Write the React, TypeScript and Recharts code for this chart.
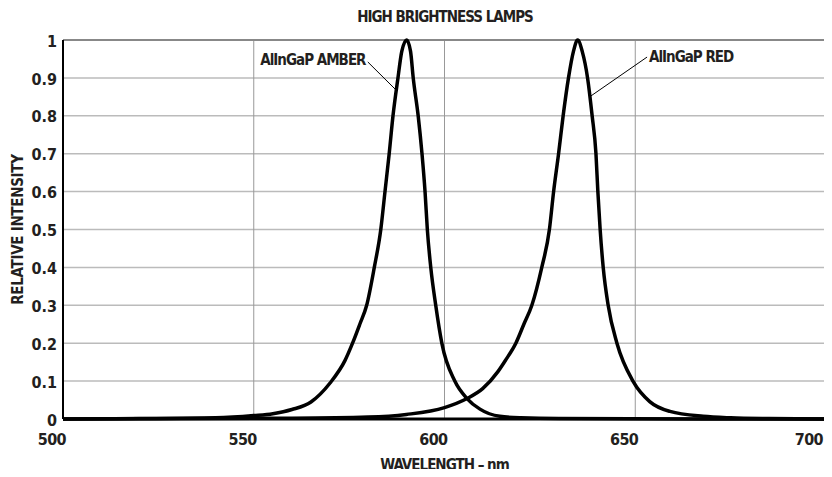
import React from "react"
import {
  LineChart,
  Line,
  XAxis,
  YAxis,
  CartesianGrid,
  ReferenceLine,
  ReferenceDot,
} from "recharts"

// AlInGaP amber spectrum (wavelength nm, relative intensity)
const amberNm = [
  500, 520, 540, 550, 555, 560, 565, 570, 573.9, 575.9, 577.8, 579.6, 581.6,
  583.3, 584.4, 585.5, 586.5, 587.8, 588.8, 590.1, 591.1, 591.8, 593.1, 594.1,
  594.9, 595.5, 596.4, 597.7, 599.3, 602.7, 605.9, 609.3, 614.5, 620, 630, 700,
]
const amberRel = [
  0, 0.001, 0.003, 0.009, 0.014, 0.025, 0.045, 0.095, 0.154, 0.2, 0.25, 0.3,
  0.4, 0.5, 0.6, 0.7, 0.8, 0.9, 0.97, 1, 0.97, 0.9, 0.8, 0.7, 0.6, 0.5, 0.4,
  0.3, 0.2, 0.1, 0.054, 0.026, 0.007, 0.003, 0.001, 0,
]

// AlInGaP red spectrum
const redNm = [
  500, 560, 580, 590, 600, 605.9, 610, 614, 616, 618.7, 620.8, 622.9, 625.5,
  627.5, 628.6, 629.9, 631.1, 632.5, 633.8, 634.9, 636.1, 637.5, 638.7, 639.7,
  640.2, 640.8, 641.6, 642.9, 645.2, 649.4, 653.8, 659.1, 667.8, 675, 685, 700,
]
const redRel = [
  0, 0.002, 0.005, 0.012, 0.03, 0.054, 0.08, 0.125, 0.155, 0.2, 0.25, 0.3, 0.4,
  0.5, 0.6, 0.7, 0.8, 0.9, 0.97, 1, 0.97, 0.9, 0.8, 0.7, 0.6, 0.5, 0.4, 0.3,
  0.2, 0.1, 0.046, 0.02, 0.007, 0.003, 0.001, 0,
]

const xTicks = [500, 550, 600, 650, 700]
const yTicks = [0, 0.1, 0.2, 0.3, 0.4, 0.5, 0.6, 0.7, 0.8, 0.9, 1]

const amberData = amberNm.map((nm, i) => ({ nm, rel: amberRel[i] }))
const redData = redNm.map((nm, i) => ({ nm, rel: redRel[i] }))

const FONT = "'Liberation Sans Narrow', 'DejaVu Sans Condensed', sans-serif"
const INK = "#231f20"
const tickStyle = { fontFamily: FONT, fontWeight: 700, fontSize: 16, fill: INK }
const smallText = { ...tickStyle, fontSize: 15, letterSpacing: -1 }

const XTick = (props: any) => {
  const { x, y, payload } = props
  return (
    <text
      x={x + 3}
      y={y + 18}
      textAnchor="end"
      style={{ ...tickStyle, letterSpacing: -0.6 }}
    >
      {payload.value}
    </text>
  )
}

const App = () => {
  return (
    <div style={{ position: "relative", width: 832, height: 477, margin: -8, background: "#fff" }}>
      <div
        style={{
          position: "absolute",
          top: 8,
          left: 0,
          width: 890,
          textAlign: "center",
          fontFamily: FONT,
          fontWeight: 700,
          fontSize: 15,
          letterSpacing: -1,
          color: INK,
          lineHeight: "18px",
        }}
      >
        HIGH BRIGHTNESS LAMPS
      </div>
      <LineChart
        width={832}
        height={477}
        margin={{ top: 40, right: 6, left: 0, bottom: 0 }}
      >
        <CartesianGrid vertical={false} stroke="#bbb" strokeWidth={1.5} />
        <CartesianGrid horizontal={false} stroke="#999" strokeWidth={1} />
        <XAxis
          type="number"
          dataKey="nm"
          domain={[500, 700]}
          ticks={xTicks}
          allowDataOverflow
          height={58}
          tickLine={false}
          axisLine={{ stroke: "#000", strokeWidth: 3 }}
          tick={<XTick />}
          label={{
            value: "WAVELENGTH – nm",
            position: "insideBottom",
            offset: 7,
            style: smallText,
          }}
        />
        <YAxis
          type="number"
          domain={[0, 1]}
          ticks={yTicks}
          width={63}
          tickLine={false}
          tickSize={0}
          tickMargin={6}
          axisLine={{ stroke: "#000", strokeWidth: 2 }}
          tick={{ ...tickStyle, dy: 1 }}
          label={{
            value: "RELATIVE INTENSITY",
            angle: -90,
            position: "insideLeft",
            offset: 18,
            style: { ...tickStyle, fontSize: 15, letterSpacing: -0.3, textAnchor: "middle" },
          }}
        />
        <ReferenceLine y={1} stroke="#888" strokeWidth={2} />
        <ReferenceLine x={700} stroke="#888" strokeWidth={2} />
        <Line
          data={amberData}
          dataKey="rel"
          type="monotone"
          stroke="#000"
          strokeWidth={3.5}
          dot={false}
          isAnimationActive={false}
        />
        <Line
          data={redData}
          dataKey="rel"
          type="monotone"
          stroke="#000"
          strokeWidth={3.5}
          dot={false}
          isAnimationActive={false}
        />
        <ReferenceLine
          segment={[
            { x: 579.9, y: 0.942 },
            { x: 587.3, y: 0.868 },
          ]}
          stroke="#000"
          strokeWidth={1}
        />
        <ReferenceLine
          segment={[
            { x: 653.1, y: 0.955 },
            { x: 637.9, y: 0.849 },
          ]}
          stroke="#000"
          strokeWidth={1}
        />
        <ReferenceDot
          x={579.3}
          y={0.947}
          r={0}
          stroke="none"
          label={{ value: "AlInGaP AMBER", position: "left", offset: 0, style: smallText }}
        />
        <ReferenceDot
          x={653.6}
          y={0.955}
          r={0}
          stroke="none"
          label={{ value: "AlInGaP RED", position: "right", offset: 0, style: smallText }}
        />
      </LineChart>
    </div>
  )
}

export default App
